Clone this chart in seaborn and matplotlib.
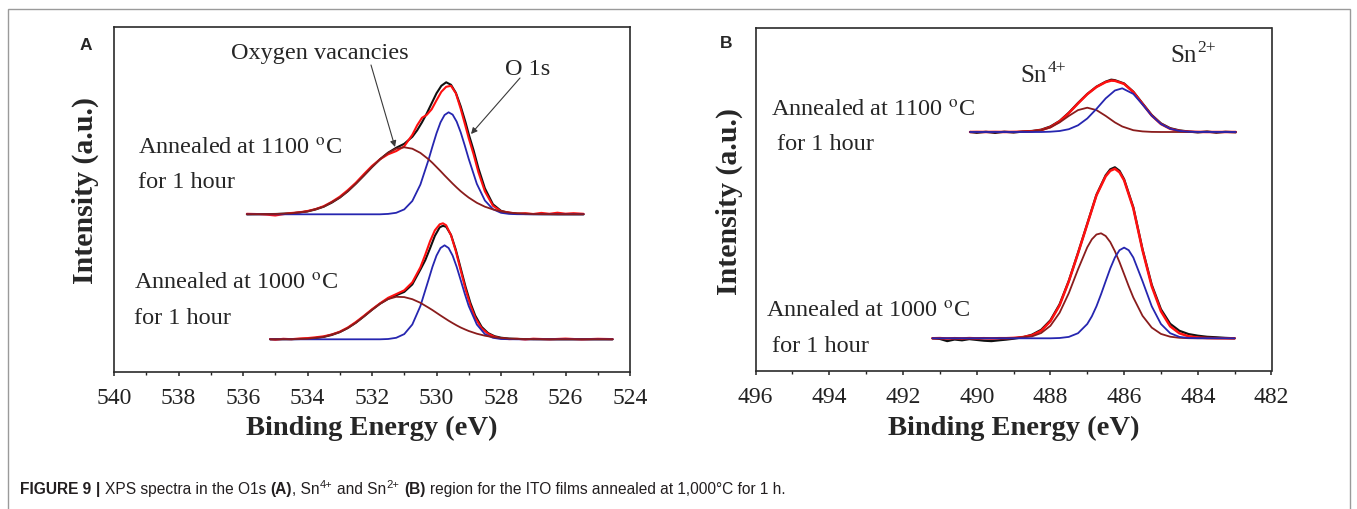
import numpy as np
import matplotlib
matplotlib.use("Agg")
import matplotlib.pyplot as plt
import seaborn as sns
from matplotlib.ticker import MultipleLocator
from matplotlib.patches import Rectangle

# ---------------- data ----------------
# Panel A : O 1s, annealed at 1100 C
a1_x = [535.88, 535.5, 535.25, 535.0, 534.75, 534.5, 534.25, 534.0, 533.75, 533.5, 533.25, 533.0,
        532.75, 532.5, 532.25, 532.0, 531.75, 531.5, 531.25, 531.0, 530.75, 530.6, 530.45, 530.3,
        530.15, 530.0, 529.85, 529.7, 529.55, 529.4, 529.25, 529.1, 529.0, 528.85, 528.7, 528.5,
        528.25, 528.0, 527.75, 527.5, 527.25, 527.0, 526.75, 526.5, 526.25, 526.0, 525.75, 525.44]
a1_black = [0, 0.1, 0.2, 0.3, 0.6, 1.0, 1.8, 2.9, 4.8, 7.6, 11.6, 16.7, 23.1, 30.7, 38.9, 47.3,
            55.1, 61.6, 66.5, 70.5, 77.5, 84.0, 92.0, 101.0, 111.0, 121.0, 128.5, 132.0, 129.5,
            121.5, 108.0, 92.0, 80.0, 64.0, 46.0, 26.0, 10.0, 3.5, 1.4, 0.6, 0.3, 0.2, 0.1, 0.1,
            0, 0, 0, 0]
a1_red = [0.5, 0.2, -0.4, -1.2, 0.1, 1.3, 2.0, 3.3, 5.2, 8.1, 12.4, 17.6, 24.2, 31.6, 40.2, 48.4,
          55.0, 60.0, 63.2, 68.0, 79.5, 89.0, 96.5, 99.5, 105.0, 114.0, 122.5, 127.5, 128.5,
          121.0, 105.5, 88.0, 76.0, 60.0, 42.0, 23.0, 8.5, 3.0, 1.8, 0.6, 1.1, 0.3, 1.4, 0.5,
          1.6, 0.6, 1.1, 0.5]
a1_cx = [535.88, 535.0, 534.5, 534.0, 533.5, 533.0, 532.75, 532.5, 532.25, 532.0, 531.75, 531.5,
         531.25, 531.0, 530.75, 530.5, 530.25, 530.125, 530.0, 529.875, 529.75, 529.625, 529.5,
         529.375, 529.25, 529.125, 529.0, 528.75, 528.5, 528.25, 528.0, 527.75, 527.5, 527.0,
         526.5, 525.44]
a1_blue = [0, 0, 0, 0, 0, 0, 0, 0, 0, 0, 0, 0.4, 1.5, 4.9, 13.3, 29.7, 54.2, 67.9, 81.0, 92.0,
           99.3, 102.0, 99.7, 92.7, 82.0, 69.0, 55.3, 30.5, 13.8, 5.1, 1.5, 0.4, 0.1, 0, 0, 0]
a1_brown = [0, 0.3, 1.0, 2.9, 7.6, 16.7, 23.1, 30.7, 38.9, 47.3, 55.1, 61.4, 65.6, 67.0, 65.6,
            61.4, 55.1, 51.4, 47.3, 43.2, 38.9, 34.8, 30.7, 26.8, 23.1, 19.8, 16.7, 11.5, 7.6,
            4.9, 2.9, 1.7, 1.0, 0.3, 0.1, 0]

# Panel A : O 1s, annealed at 1000 C
a2_x = [535.16, 535.0, 534.75, 534.5, 534.25, 534.0, 533.75, 533.5, 533.25, 533.0, 532.75, 532.5,
        532.25, 532.0, 531.75, 531.5, 531.25, 531.0, 530.75, 530.5, 530.35, 530.2, 530.05, 529.9,
        529.8, 529.7, 529.55, 529.4, 529.25, 529.1, 528.95, 528.8, 528.6, 528.4, 528.2, 528.0,
        527.75, 527.5, 527.25, 527.0, 526.5, 526.0, 525.5, 525.0, 524.54]
a2_black = [0, 0, 0.1, 0.1, 0.3, 0.6, 1.2, 2.4, 4.3, 7.2, 11.3, 16.6, 22.9, 29.5, 35.6, 40.5,
            44.0, 47.4, 54.9, 69.7, 79.0, 91.0, 103.5, 112.0, 113.5, 112.5, 104.4, 89.4, 71.0,
            52.6, 36.5, 23.8, 12.4, 6.2, 3.1, 1.6, 0.7, 0.4, 0.2, 0.1, 0, 0, 0, 0, 0]
a2_red = [0.3, -0.4, 0.5, 0.1, 0.8, 1.2, 2.0, 3.0, 4.8, 7.6, 11.8, 17.3, 23.5, 30.0, 36.0, 41.5,
          45.2, 49.0, 57.0, 72.0, 84.5, 98.0, 109.0, 115.0, 116.0, 114.0, 104.0, 88.0, 69.0,
          50.0, 34.0, 21.5, 11.0, 5.5, 2.5, 1.0, 0.2, 0.5, -0.2, 0.6, 0.0, 0.7, -0.1, 0.5, 0.2]
a2_cx = [535.16, 535.0, 534.5, 534.0, 533.5, 533.0, 532.75, 532.5, 532.25, 532.0, 531.75, 531.5,
         531.25, 531.0, 530.75, 530.5, 530.25, 530.125, 530.0, 529.875, 529.75, 529.625, 529.5,
         529.375, 529.25, 529.125, 529.0, 528.75, 528.5, 528.25, 528.0, 527.75, 527.5, 527.0,
         526.5, 524.54]
a2_blue = [0, 0, 0, 0, 0, 0, 0, 0, 0, 0, 0, 0.3, 1.5, 5.2, 14.8, 33.2, 59.2, 72.5, 83.7, 91.3,
           94.0, 91.3, 83.7, 72.5, 59.2, 45.7, 33.2, 14.8, 5.2, 1.5, 0.3, 0.1, 0, 0, 0, 0]
a2_brown = [0, 0, 0.1, 0.6, 2.4, 7.2, 11.3, 16.6, 22.9, 29.5, 35.6, 40.2, 42.5, 42.2, 40.1, 36.5,
            31.7, 29.2, 26.5, 23.8, 21.2, 18.6, 16.2, 13.9, 11.8, 10.0, 8.3, 5.6, 3.6, 2.2, 1.3,
            0.7, 0.4, 0.1, 0, 0]

# Panel B : Sn 3d, annealed at 1100 C
b1_x = [490.18, 490.0, 489.75, 489.5, 489.25, 489.0, 488.75, 488.5, 488.25, 488.0, 487.75, 487.5,
        487.25, 487.0, 486.75, 486.5, 486.35, 486.25, 486.0, 485.75, 485.5, 485.25, 485.0, 484.75,
        484.5, 484.25, 484.0, 483.75, 483.5, 483.25, 482.97]
b1_red = [0, 0.1, 0, 0.1, 0, 0.1, 0.3, 0.7, 1.9, 4.9, 10.6, 18.9, 28.6, 37.8, 45.0, 49.9, 51.4,
          51.2, 48.1, 39.9, 28.1, 16.4, 8.0, 3.2, 1.1, 0.3, 0.1, 0, 0, 0, 0]
b1_black = [0, -0.8, 0.2, -0.9, 0.3, -0.5, 0.5, 1.0, 2.3, 5.5, 11.0, 19.3, 29.0, 38.0, 45.3, 50.3,
            52.3, 51.8, 48.5, 40.3, 28.6, 17.0, 8.6, 3.8, 1.6, 0.5, -0.4, 0.5, -0.7, 0.2, -0.3]
b1_cx = [490.18, 489.0, 488.5, 488.25, 488.0, 487.75, 487.5, 487.25, 487.0, 486.75, 486.5, 486.25,
         486.05, 485.75, 485.5, 485.25, 485.0, 484.75, 484.5, 484.25, 484.0, 482.97]
b1_brown = [0, 0, 0.6, 1.8, 4.6, 9.6, 16.1, 21.9, 24.3, 21.9, 16.1, 9.6, 5.5, 1.8, 0.6, 0.1, 0, 0,
            0, 0, 0, 0]
b1_blue = [0, 0, 0, 0, 0.3, 1.0, 2.8, 6.7, 13.5, 23.1, 33.6, 41.5, 43.7, 38.1, 27.5, 16.3, 8.0,
           3.2, 1.1, 0.3, 0.1, 0]

# Panel B : Sn 3d, annealed at 1000 C
b2_x = [491.2, 491.0, 490.8, 490.6, 490.4, 490.2, 490.0, 489.8, 489.6, 489.4, 489.2, 489.0, 488.75,
        488.5, 488.25, 488.0, 487.75, 487.5, 487.25, 487.0, 486.75, 486.5, 486.375, 486.25,
        486.125, 486.0, 485.75, 485.5, 485.25, 485.0, 484.75, 484.5, 484.25, 484.0, 483.75, 483.5,
        483.25, 483.0]
b2_red = [0, 0.2, -0.3, 0.1, -0.2, 0.2, -0.1, 0.1, -0.2, 0.1, 0.1, 0.4, 1.2, 3.0, 7.5, 17.0, 33.0,
          57.0, 85.0, 114.0, 143.0, 162.0, 167.5, 169.5, 166.0, 158.0, 130.0, 88.0, 52.0, 27.0,
          12.0, 5.0, 2.0, 0.8, 0.3, 0.1, 0, 0]
b2_black = [0, -0.6, -2.8, -1.2, -2.0, -0.8, -1.6, -2.4, -2.8, -2.0, -1.3, -0.4, 1.0, 3.6, 8.5,
            18.0, 34.0, 57.5, 85.5, 114.5, 143.5, 163.0, 169.0, 171.0, 167.5, 159.0, 131.0, 89.0,
            53.5, 29.0, 14.5, 7.5, 4.2, 2.6, 1.5, 1.0, 0.4, 0]
b2_cx = [491.2, 490.0, 489.0, 488.5, 488.25, 488.0, 487.75, 487.5, 487.25, 487.0, 486.875, 486.75,
         486.625, 486.5, 486.375, 486.25, 486.125, 486.0, 485.875, 485.75, 485.5, 485.25, 485.0,
         484.75, 484.5, 484.25, 484.0, 483.0]
b2_brown = [0, 0, 0.2, 1.9, 5.3, 12.5, 25.6, 45.2, 69.0, 91.0, 99.0, 103.8, 105.0, 102.3, 96.2,
            87.1, 76.2, 64.2, 52.1, 40.8, 22.5, 10.7, 4.4, 1.6, 0.5, 0.1, 0, 0]
b2_blue = [0, 0, 0, 0, 0, 0, 0.3, 1.4, 5.1, 14.3, 22.0, 32.0, 44.1, 57.1, 69.9, 80.8, 88.1, 90.7,
           88.1, 80.8, 57.1, 32.0, 14.3, 5.1, 1.4, 0.3, 0.1, 0]

# tick labels
a_ticks = [540, 538, 536, 534, 532, 530, 528, 526, 524]
b_ticks = [496, 494, 492, 490, 488, 486, 484, 482]

# texts
label_1100 = ["Annealed at 1100 $^{\\mathrm{o}}$C", "for 1 hour"]
label_1000 = ["Annealed at 1000 $^{\\mathrm{o}}$C", "for 1 hour"]
xlabel = "Binding Energy (eV)"
ylabel = "Intensity (a.u.)"

# ---------------- style ----------------
sns.set_style("white")
plt.rcParams['font.family'] = ['Liberation Serif', 'DejaVu Serif']
plt.rcParams['mathtext.fontset'] = 'stix'

W, H = 1357, 509
fig = plt.figure(figsize=(W / 100, H / 100), dpi=100)
renderer = fig.canvas.get_renderer()


def fx(px):
    return px / W


def fy(py):
    return 1 - py / H


axA = fig.add_axes([fx(114), fy(371.7), fx(630) - fx(114), fy(27) - fy(371.7)])
axB = fig.add_axes([fx(755.6), fy(371), fx(1271.5) - fx(755.6), fy(28.3) - fy(371)])

RED, BLACK, BLUE, BROWN = '#ff1010', '#111111', '#2626b0', '#8a1c1c'


def draw(ax, x, y, off, color, lw, z):
    sns.lineplot(x=x, y=np.asarray(y, dtype=float) + off, ax=ax, color=color, linewidth=lw,
                 sort=False, estimator=None, zorder=z, legend=False)


# panel A curves
for off, (x, blk, red, cx, blu, brn) in [(157.4, (a1_x, a1_black, a1_red, a1_cx, a1_blue, a1_brown)),
                                         (32.4, (a2_x, a2_black, a2_red, a2_cx, a2_blue, a2_brown))]:
    draw(axA, x, blk, off, BLACK, 1.5, 2)
    draw(axA, x, red, off, RED, 1.5, 3)
    draw(axA, cx, blu, off, BLUE, 1.3, 4)
    draw(axA, cx, brn, off, BROWN, 1.3, 5)

# panel B curves
for off, (x, blk, red, cx, blu, brn) in [(239.0, (b1_x, b1_black, b1_red, b1_cx, b1_blue, b1_brown)),
                                         (32.7, (b2_x, b2_black, b2_red, b2_cx, b2_blue, b2_brown))]:
    draw(axB, x, blk, off, BLACK, 1.6, 2)
    draw(axB, x, red, off, RED, 1.8, 3)
    draw(axB, cx, brn, off, BROWN, 1.3, 4)
    draw(axB, cx, blu, off, BLUE, 1.3, 5)

for ax, ticks, ylim in [(axA, a_ticks, 344.7), (axB, b_ticks, 342.7)]:
    ax.set_xlim(ticks[0], ticks[-1])
    ax.set_ylim(0, ylim)
    ax.set_xticks(ticks)
    ax.set_xticklabels([str(t) for t in ticks])
    ax.xaxis.set_minor_locator(MultipleLocator(1))
    ax.set_yticks([])
    ax.set_xlabel("")
    ax.set_ylabel("")
    ax.tick_params(axis='x', which='major', direction='out', length=3.2, width=1.1, bottom=True,
                   labelsize=17, pad=8.5, colors='#222222')
    ax.tick_params(axis='x', which='minor', direction='out', length=1.8, width=1.0, bottom=True,
                   colors='#222222')
    for s in ax.spines.values():
        s.set_linewidth(1.2)
        s.set_color('#2a2a2a')

# axis titles
for cx_, cy_ in [(85.5, 190), (729, 201)]:
    fig.text(fx(cx_), fy(cy_), ylabel, rotation=90, ha='center', va='center',
             fontsize=21.5, fontweight='bold')
for cx_ in [372, 1013.5]:
    fig.text(fx(cx_), fy(435), xlabel, ha='center', va='baseline', fontsize=20.5,
             fontweight='bold')

# panel letters
fig.text(fx(86), fy(46), "A", ha='center', va='center', fontsize=12.5, fontweight='bold',
         family=['Liberation Sans', 'DejaVu Sans'])
fig.text(fx(726), fy(44), "B", ha='center', va='center', fontsize=12.5, fontweight='bold',
         family=['Liberation Sans', 'DejaVu Sans'])

ANN = 17.5
# panel A annotations
fig.text(fx(138), fy(155), label_1100[0], fontsize=ANN, va='baseline')
fig.text(fx(138), fy(188), label_1100[1], fontsize=ANN, va='baseline')
fig.text(fx(134.5), fy(290), label_1000[0], fontsize=ANN, va='baseline')
fig.text(fx(134.5), fy(324), label_1000[1], fontsize=ANN, va='baseline')
fig.text(fx(320), fy(58.5), "Oxygen vacancies", fontsize=ANN, ha='center', va='baseline')
fig.text(fx(528), fy(75), "O 1s", fontsize=ANN, ha='center', va='baseline')

# panel B annotations
fig.text(fx(770.7), fy(117), label_1100[0], fontsize=ANN, va='baseline')
fig.text(fx(777), fy(150), label_1100[1], fontsize=ANN, va='baseline')
fig.text(fx(765.5), fy(318), label_1000[0], fontsize=ANN, va='baseline')
fig.text(fx(771.5), fy(352), label_1000[1], fontsize=ANN, va='baseline')


def sup_text(x, y, base, sup, size, sup_size, rise, gap=1.0, **kw):
    t = fig.text(fx(x), fy(y), base, fontsize=size, va='baseline', **kw)
    bb = t.get_window_extent(renderer=renderer)
    s = fig.text(fx(bb.x1 + gap), fy(y - rise), sup, fontsize=sup_size, va='baseline', **kw)
    return s.get_window_extent(renderer=renderer).x1


sup_text(1020, 82, "Sn", "4+", 18, 12.5, 10)
sup_text(1170, 62, "Sn", "2+", 18, 12.5, 10)


def arrow(start, tip, color, lw, ms):
    axA.annotate('', xy=(tip[0], H - tip[1]), xycoords='figure pixels',
                 xytext=(start[0], H - start[1]), textcoords='figure pixels',
                 arrowprops=dict(arrowstyle='-|>', color=color, lw=lw, mutation_scale=ms,
                                 shrinkA=0, shrinkB=0))


arrow((371, 65), (395, 147), '#3a3a3a', 0.8, 9)
arrow((520, 78), (471, 134), '#3a3a3a', 0.8, 9)
arrow((1065, 86), (1074, 118), '#111111', 1.4, 11)
arrow((1165, 60), (1144, 82), '#111111', 1.4, 11)

# outer frame
fig.add_artist(Rectangle((fx(8), fy(H + 20)), fx(1350) - fx(8), fy(9) - fy(H + 20),
                         transform=fig.transFigure, fill=False, edgecolor='#9a9a9a', lw=1.0,
                         clip_on=False))

# caption
CAP = 11.2
cap_kw = dict(family=['Liberation Sans', 'DejaVu Sans'], color='#231f20', ha='left')
segments = [("FIGURE 9", 'bold', 4.5), ("|", 'bold', 4.5), ("XPS spectra in the O1s", 'normal', 4.5),
            ("(A)", 'bold', 0), (", Sn", 'normal', 0.5), ("4+", 'sup', 4.5), ("and Sn", 'normal', 0.5),
            ("2+", 'sup', 4.5), ("(B)", 'bold', 4.5),
            ("region for the ITO films annealed at 1,000\u00b0C for 1 h.", 'normal', 0)]
xpos = 20
for txt, wgt, gap in segments:
    if wgt == 'sup':
        t = fig.text(fx(xpos), fy(494 - 5.5), txt, fontsize=CAP * 0.72, fontweight='normal',
                     va='baseline', **cap_kw)
    else:
        t = fig.text(fx(xpos), fy(494), txt, fontsize=CAP, fontweight=wgt, va='baseline', **cap_kw)
    bb = t.get_window_extent(renderer=renderer)
    xpos = bb.x1 + gap

fig.savefig("out.png", dpi=100)
